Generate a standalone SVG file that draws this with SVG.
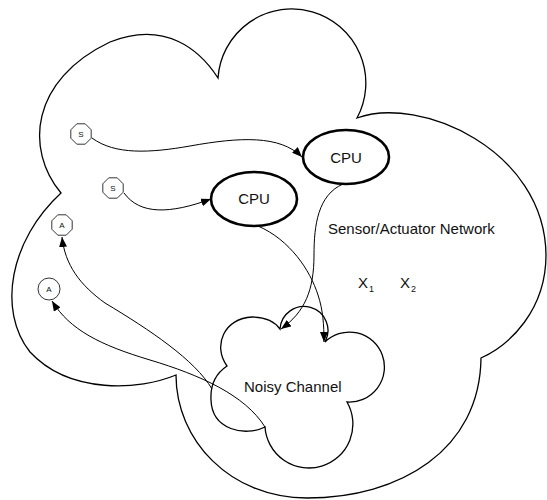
<svg xmlns="http://www.w3.org/2000/svg" width="547" height="500" viewBox="0 0 547 500">
<style>
.outline{fill:none;stroke:#000;stroke-width:1.3}
.cpu{fill:#fff;stroke:#000;stroke-width:2.6}
.node{fill:#fff;stroke:#000;stroke-width:0.8}
.conn{fill:none;stroke:#000;stroke-width:1;marker-end:url(#arr)}
.lbl{font-family:"Liberation Sans",Arial,sans-serif;font-size:15px;fill:#111}
.sm{font-family:"Liberation Sans",Arial,sans-serif;font-size:8px;fill:#111;text-anchor:middle}
</style>
<defs>
<marker id="arr" viewBox="0 0 10 8" refX="10" refY="4" markerWidth="10" markerHeight="8" markerUnits="userSpaceOnUse" orient="auto">
<path d="M0,0 L10,4 L0,8 z" fill="#000"/>
</marker>
<polygon id="oct" points="10.2,4.2 4.2,10.2 -4.2,10.2 -10.2,4.2 -10.2,-4.2 -4.2,-10.2 4.2,-10.2 10.2,-4.2"/>
</defs>
<rect width="547" height="500" fill="#fff"/>
<g id="network">
<path class="outline" d="M61,193 C25,150 30,80 110,42 C165,20 200,50 218,78 A74,74 0 1 1 357,118 C420,95 545,150 546,255 C546,310 510,345 481,358 C480,450 400,498 307,498 C230,498 176,440 176,375 C140,390 70,395 30,352 C-3,310 10,240 61,193 Z"/>
<text class="lbl" x="328" y="234">Sensor/Actuator Network</text>
<text class="lbl" x="358" y="288">X</text><text class="lbl" x="369" y="292" style="font-size:9px">1</text>
<text class="lbl" x="400" y="288">X</text><text class="lbl" x="411" y="292" style="font-size:9px">2</text>
</g>
<g id="channel">
<path class="outline" d="M280,329 A24,24 0 1 1 325,342 A35,35 0 1 1 347,402 A44,44 0 1 1 265,427 C245,437 212,430 211,400 C210,382 218,372 227,366 C212,345 225,318 252,317 C265,317 275,322 280,329 Z"/>
<text class="lbl" x="244" y="392">Noisy Channel</text>
</g>
<g id="cpu1">
<ellipse class="cpu" cx="346" cy="157" rx="43" ry="27"/>
<text class="lbl" x="346" y="163" text-anchor="middle">CPU</text>
</g>
<g id="cpu2">
<ellipse class="cpu" cx="254" cy="199" rx="43" ry="27"/>
<text class="lbl" x="254" y="204" text-anchor="middle">CPU</text>
</g>
<g id="s1"><use href="#oct" class="node" transform="translate(81,134)"/><text class="sm" x="81" y="137">S</text></g>
<g id="s2"><use href="#oct" class="node" transform="translate(113,188)"/><text class="sm" x="113" y="191">S</text></g>
<g id="a1"><use href="#oct" class="node" transform="translate(62,225)"/><text class="sm" x="62" y="228">A</text></g>
<g id="a2"><circle class="node" cx="49" cy="289" r="11"/><text class="sm" x="49" y="292">A</text></g>
<g id="connectors">
<path class="conn" d="M92,138 C115,155 150,153 190,146 C240,137 280,135 302,157"/>
<path class="conn" d="M124,193 C140,215 170,214 211,199"/>
<path class="conn" d="M343,184 C318,195 314,225 314,255 C314,290 305,312 281,329"/>
<path class="conn" d="M258,226 C290,240 310,270 318,295 C323,310 324,325 324,342"/>
<path class="conn" d="M212,389 C195,360 150,330 105,303 C80,285 65,265 62,237"/>
<path class="conn" d="M265,427 C245,395 200,375 150,360 C100,345 70,330 52,301"/>
</g>
</svg>
